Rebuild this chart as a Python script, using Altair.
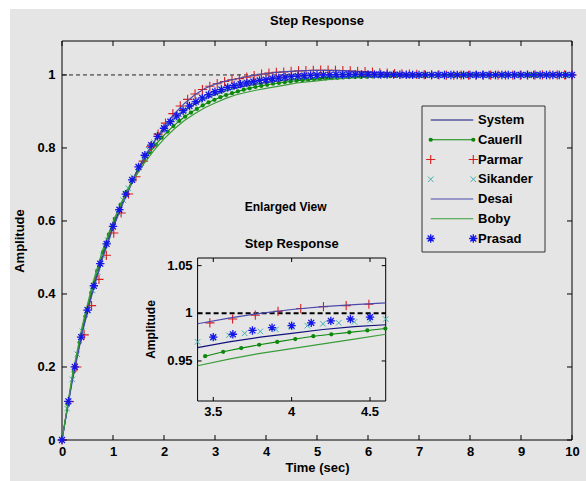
import altair as alt
import numpy as np
import pandas as pd

FONT = "Liberation Sans, Arial, sans-serif"
BG = "#e5e5e5"

# ---------------- data ----------------
# sampling steps of the step responses (s)
line_dt = 0.2          # System, Desai, Boby
cauer_dt = 10 / 87     # CauerII
parmar_dt = 10 / 69    # Parmar
sikander_dt = 0.1      # Sikander
prasad_dt = 0.125      # Prasad

system_y = [0.000, 0.168, 0.300, 0.410, 0.505, 0.585, 0.655, 0.718, 0.772, 0.815,
            0.850, 0.879, 0.902, 0.920, 0.934, 0.946, 0.956, 0.964, 0.970, 0.975,
            0.979, 0.983, 0.986, 0.988, 0.990, 0.992, 0.993, 0.994, 0.995, 0.996,
            0.997, 0.9975, 0.998, 0.9985, 0.9988, 0.999, 0.9992, 0.9994, 0.9995, 0.9996,
            0.9997, 0.9998, 0.9998, 0.9999, 0.9999, 1.000, 1.000, 1.000, 1.000, 1.000, 1.000]

desai_y = [0.000, 0.160, 0.295, 0.405, 0.500, 0.580, 0.650, 0.713, 0.768, 0.816,
           0.858, 0.893, 0.922, 0.945, 0.963, 0.975, 0.983, 0.989, 0.995, 1.000,
           1.004, 1.007, 1.009, 1.011, 1.012, 1.0125, 1.0125, 1.012, 1.011, 1.0095,
           1.008, 1.0065, 1.005, 1.0035, 1.0025, 1.0015, 1.001, 1.0005, 1.000, 0.9997,
           0.9995, 0.9994, 0.9994, 0.9995, 0.9996, 0.9997, 0.9998, 0.9999, 1.000, 1.000, 1.000]

boby_y = [0.000, 0.175, 0.315, 0.428, 0.522, 0.598, 0.660, 0.712, 0.756, 0.793,
          0.825, 0.852, 0.875, 0.894, 0.910, 0.923, 0.935, 0.945, 0.952, 0.958,
          0.963, 0.968, 0.973, 0.978, 0.981, 0.984, 0.987, 0.989, 0.991, 0.9925,
          0.994, 0.995, 0.996, 0.9967, 0.9973, 0.9978, 0.9982, 0.9985, 0.9988, 0.999,
          0.9992, 0.9993, 0.9994, 0.9995, 0.9996, 0.9997, 0.9997, 0.9998, 0.9998, 0.9999, 0.9999]

cauer_y = [0.000, 0.098, 0.187, 0.267, 0.339, 0.404, 0.4625, 0.515, 0.563, 0.606,
           0.645, 0.680, 0.711, 0.7395, 0.765, 0.788, 0.809, 0.828, 0.845, 0.860,
           0.874, 0.886, 0.897, 0.907, 0.9165, 0.925, 0.932, 0.939, 0.945, 0.950,
           0.955, 0.9596, 0.9635, 0.967, 0.970, 0.973, 0.976, 0.978, 0.980, 0.982,
           0.984, 0.9857, 0.9871, 0.9883, 0.9895, 0.9905, 0.9915, 0.9923, 0.9931, 0.9938,
           0.9944, 0.9949, 0.9954, 0.9959, 0.9963, 0.9967, 0.9970, 0.9973, 0.9976, 0.9978,
           0.9980, 0.9982, 0.9984, 0.9986, 0.9987, 0.9988, 0.9989, 0.9990, 0.9991, 0.9992,
           0.9993, 0.9994, 0.9994, 0.9995, 0.9995, 0.9996, 0.9996, 0.9997, 0.9997, 0.9997,
           0.9998, 0.9998, 0.9998, 0.9998, 0.9999, 0.9999, 0.9999, 0.9999]

parmar_y = [0.000, 0.105, 0.200, 0.288, 0.368, 0.440, 0.506, 0.567, 0.622, 0.674,
            0.721, 0.764, 0.803, 0.838, 0.868, 0.894, 0.915, 0.933, 0.948, 0.960,
            0.969, 0.976, 0.982, 0.987, 0.990, 0.994, 0.998, 1.002, 1.005, 1.007,
            1.008, 1.0095, 1.011, 1.012, 1.0125, 1.013, 1.013, 1.0125, 1.012, 1.011,
            1.010, 1.009, 1.0075, 1.006, 1.005, 1.004, 1.003, 1.002, 1.0015, 1.001,
            1.0005, 1.000, 0.9997, 0.9995, 0.9993, 0.9992, 0.9992, 0.9993, 0.9994, 0.9995,
            0.9996, 0.9997, 0.9998, 0.9999, 1.000, 1.000, 1.000, 1.000, 1.000, 1.000]

sikander_y = [0.000, 0.086, 0.166, 0.235, 0.298, 0.356, 0.410, 0.460, 0.506, 0.547,
              0.585, 0.622, 0.657, 0.690, 0.720, 0.747, 0.772, 0.795, 0.816, 0.835,
              0.852, 0.867, 0.880, 0.892, 0.903, 0.913, 0.922, 0.930, 0.937, 0.944,
              0.950, 0.955, 0.960, 0.965, 0.970, 0.974, 0.977, 0.979, 0.981, 0.983,
              0.9855, 0.987, 0.989, 0.990, 0.991, 0.9925, 0.994, 0.995, 0.996, 0.9965,
              0.997, 0.9975, 0.998, 0.9983, 0.9986, 0.9988, 0.999, 0.9992, 0.9993, 0.9994,
              0.9995, 0.9996, 0.9996, 0.9997, 0.9997, 0.9998, 0.9998, 0.9998, 0.9999, 0.9999,
              0.9999, 1.000, 1.000, 1.000, 1.000, 1.000, 1.000, 1.000, 1.000, 1.000,
              1.000, 1.000, 1.000, 1.000, 1.000, 1.000, 1.000, 1.000, 1.000, 1.000,
              1.000, 1.000, 1.000, 1.000, 1.000, 1.000, 1.000, 1.000, 1.000, 1.000,
              1.000]

prasad_y = [0.000, 0.106, 0.2005, 0.282, 0.356, 0.4225, 0.483, 0.537, 0.585, 0.631,
            0.6735, 0.7125, 0.748, 0.780, 0.8075, 0.832, 0.854, 0.872, 0.888, 0.902,
            0.915, 0.927, 0.937, 0.946, 0.954, 0.960, 0.966, 0.971, 0.975, 0.978,
            0.982, 0.985, 0.987, 0.990, 0.992, 0.994, 0.996, 0.997, 0.998, 0.999,
            0.9995, 1.000, 1.0005, 1.001, 1.001, 1.0013, 1.0015, 1.0015, 1.0015, 1.0014,
            1.0012, 1.001, 1.0008, 1.0006, 1.0005, 1.0003, 1.0002, 1.0001, 1.0001, 1.0001,
            1.000, 1.000, 1.000, 1.000, 1.000, 1.000, 1.000, 1.000, 1.000, 1.000,
            1.000, 1.000, 1.000, 1.000, 1.000, 1.000, 1.000, 1.000, 1.000, 1.000,
            1.000]

legend_names = ["System", "CauerII", "Parmar", "Sikander", "Desai", "Boby", "Prasad"]
x_ticks = [0, 1, 2, 3, 4, 5, 6, 7, 8, 9, 10]
y_ticks = [0, 0.2, 0.4, 0.6, 0.8, 1]
inset_x_ticks = [3.5, 4, 4.5]
inset_y_ticks = [0.95, 1, 1.05]
x_domain = [0, 10]
y_domain = [0, 1.093]
inset_x_domain = [3.4, 4.6]
inset_y_domain = [0.908, 1.058]
main_title = "Step Response"


def frame(values, dt):
    t = np.round(np.arange(len(values)) * dt, 4)
    return pd.DataFrame({"t": t, "y": values})


df_system = frame(system_y, line_dt)
df_desai = frame(desai_y, line_dt)
df_boby = frame(boby_y, line_dt)
df_cauer = frame(cauer_y, cauer_dt)
df_parmar = frame(parmar_y, parmar_dt)
df_sikander = frame(sikander_y, sikander_dt)
df_prasad = frame(prasad_y, prasad_dt)
one = pd.DataFrame({"a": [0]})

# ---------------- styles ----------------
C_SYS = "#12127e"
C_CAUER = "#0b880b"
C_PARMAR = "#d81e1e"
C_SIK = "#3fb0b0"
C_DESAI = "#4a4aae"
C_BOBY = "#3a9c3a"
C_PRASAD = "#1515e8"

PLUS = "M-1,0L1,0M0,-1L0,1"
XMARK = "M-1,-1L1,1M-1,1L1,-1"
STAR = "M-1,0L1,0M0,-1L0,1M-0.7,-0.7L0.7,0.7M-0.7,0.7L0.7,-0.7"

# ---------------- main axes ----------------
x_scale = alt.Scale(domain=x_domain, nice=False, zero=False)
y_scale = alt.Scale(domain=y_domain, nice=False, zero=False)
x_axis = alt.Axis(values=x_ticks, title="Time (sec)", ticks=False, domain=False, grid=False,
                  labelFont=FONT, labelFontSize=13, labelFontWeight="bold", labelColor="black",
                  labelPadding=5, labelFlush=False, labelOverlap=False,
                  titleFont=FONT, titleFontSize=13, titleFontWeight="bold", titleColor="black",
                  titlePadding=3, zindex=1)
y_axis = alt.Axis(values=y_ticks, format="~g", title="Amplitude", ticks=False, domain=False, grid=False,
                  labelFont=FONT, labelFontSize=13, labelFontWeight="bold", labelColor="black",
                  labelPadding=7, labelFlush=False, labelOverlap=False,
                  titleFont=FONT, titleFontSize=13, titleFontWeight="bold", titleColor="black",
                  titlePadding=10, zindex=1)

MX = alt.X("t:Q", scale=x_scale, axis=x_axis)
MY = alt.Y("y:Q", scale=y_scale, axis=y_axis)


def mxd(v):
    return alt.XDatum(v, type="quantitative", scale=x_scale, axis=x_axis)


def myd(v):
    return alt.YDatum(v, type="quantitative", scale=y_scale, axis=y_axis)


def series_layers(X, Y, filt=None):
    def base(df):
        c = alt.Chart(df)
        if filt:
            c = c.transform_filter(filt)
        return c
    enc = dict(x=X, y=Y)
    return [
        base(df_system).mark_line(color=C_SYS, strokeWidth=1.2).encode(**enc),
        base(df_cauer).mark_line(color=C_CAUER, strokeWidth=1.1).encode(**enc),
        base(df_cauer).mark_point(shape="circle", filled=True, color=C_CAUER, size=18, opacity=1).encode(**enc),
        base(df_parmar).mark_point(shape=PLUS, filled=False, stroke=C_PARMAR, strokeWidth=1.1, size=85, opacity=1).encode(**enc),
        base(df_sikander).mark_point(shape=XMARK, filled=False, stroke=C_SIK, strokeWidth=1, size=30, opacity=1).encode(**enc),
        base(df_desai).mark_line(color=C_DESAI, strokeWidth=1.2).encode(**enc),
        base(df_boby).mark_line(color=C_BOBY, strokeWidth=1.2).encode(**enc),
        base(df_prasad).mark_point(shape=STAR, filled=False, stroke=C_PRASAD, strokeWidth=1.3, size=70, opacity=1).encode(**enc),
    ]


xt = pd.DataFrame({"t": x_ticks})
yt = pd.DataFrame({"y": y_ticks})

main = alt.layer(
    # figure background (white strip at top/left like the original)
    alt.Chart(one).mark_rect(color=BG).encode(
        x=alt.value(-52), x2=alt.value(524), y=alt.value(-32), y2=alt.value(440)),
    # axes box
    alt.Chart(one).mark_rect(fill=None, stroke="black", strokeWidth=1).encode(
        x=mxd(x_domain[0]), x2=alt.X2Datum(x_domain[1]), y=myd(y_domain[0]), y2=alt.Y2Datum(y_domain[1])),
    # inward ticks
    alt.Chart(xt).mark_rule(color="black", y2Offset=-5).encode(x=MX, y=myd(0), y2=alt.Y2Datum(0)),
    alt.Chart(xt).mark_rule(color="black", y2Offset=5).encode(x=MX, y=myd(y_domain[1]), y2=alt.Y2Datum(y_domain[1])),
    alt.Chart(yt).mark_rule(color="black", x2Offset=5).encode(y=MY, x=mxd(0), x2=alt.X2Datum(0)),
    alt.Chart(yt).mark_rule(color="black", x2Offset=-5).encode(y=MY, x=mxd(10), x2=alt.X2Datum(10)),
    # steady-state reference
    alt.Chart(one).mark_rule(color="#222222", strokeWidth=1, strokeDash=[4, 3]).encode(
        x=mxd(0), x2=alt.X2Datum(10), y=myd(1)),
    *series_layers(MX, MY),
    # main title
    alt.Chart(one).mark_text(text=main_title, baseline="middle", dy=-20, font=FONT, fontSize=13,
                             fontWeight="bold", color="black").encode(
        x=mxd(5), y=myd(y_domain[1])),
)

# ---------------- inset (enlarged view) ----------------
xi_scale = alt.Scale(domain=inset_x_domain, range=[135.6, 323.7], nice=False, zero=False)
yi_scale = alt.Scale(domain=inset_y_domain, range=[360, 217], nice=False, zero=False)
IX = alt.X("t:Q", scale=xi_scale, axis=None)
IY = alt.Y("y:Q", scale=yi_scale, axis=None)


def ixd(v):
    return alt.XDatum(v, type="quantitative", scale=xi_scale, axis=None)


def iyd(v):
    return alt.YDatum(v, type="quantitative", scale=yi_scale, axis=None)


ixt = pd.DataFrame({"t": inset_x_ticks})
iyt = pd.DataFrame({"y": inset_y_ticks})
x0, x1 = inset_x_domain
y0, y1 = inset_y_domain
tick_font = dict(font=FONT, fontSize=13, fontWeight="bold", color="black")

inset = alt.layer(
    alt.Chart(one).mark_rect(fill=BG, stroke="black", strokeWidth=1).encode(
        x=ixd(x0), x2=alt.X2Datum(x1), y=iyd(y0), y2=alt.Y2Datum(y1)),
    alt.Chart(ixt).mark_rule(color="black", y2Offset=-4).encode(x=IX, y=iyd(y0), y2=alt.Y2Datum(y0)),
    alt.Chart(ixt).mark_rule(color="black", y2Offset=4).encode(x=IX, y=iyd(y1), y2=alt.Y2Datum(y1)),
    alt.Chart(iyt).mark_rule(color="black", x2Offset=4).encode(y=IY, x=ixd(x0), x2=alt.X2Datum(x0)),
    alt.Chart(iyt).mark_rule(color="black", x2Offset=-4).encode(y=IY, x=ixd(x1), x2=alt.X2Datum(x1)),
    alt.Chart(ixt).mark_text(baseline="top", dy=5, **tick_font).encode(
        x=IX, y=iyd(y0), text=alt.Text("t:Q", format="~g")),
    alt.Chart(iyt).mark_text(align="right", baseline="middle", dx=-5, **tick_font).encode(
        y=IY, x=ixd(x0), text=alt.Text("y:Q", format="~g")),
    alt.Chart(one).mark_rule(color="black", strokeWidth=2, strokeDash=[5, 3]).encode(
        x=ixd(x0), x2=alt.X2Datum(x1), y=iyd(1)),
    *series_layers(IX, IY, "datum.t >= 3.399 && datum.t <= 4.601"),
    alt.Chart(one).mark_text(text="Step Response", baseline="middle", dy=-14, **tick_font).encode(
        x=ixd(4.0), y=iyd(y1)),
    alt.Chart(one).mark_text(text="Enlarged View", baseline="middle", dx=-6, dy=-51,
                             font=FONT, fontSize=12, fontWeight="bold", color="black").encode(
        x=ixd(4.0), y=iyd(y1)),
    alt.Chart(one).mark_text(text="Amplitude", angle=270, align="center", baseline="middle",
                             font=FONT, fontSize=12, fontWeight="bold", color="black").encode(
        x=ixd(3.103), y=iyd(0.983)),
)

# ---------------- legend ----------------
leg = pd.DataFrame({"name": legend_names})
LY = alt.Y("name:N", scale=alt.Scale(type="point", domain=legend_names, range=[79, 197.5], padding=0), axis=None)
LX0, LX1 = 368.7, 411.3


def lrow(name):
    return alt.Chart(leg).transform_filter(alt.datum.name == name)


legend_layers = [
    alt.Chart(one).mark_rect(fill=BG, stroke="#333333", strokeWidth=1).encode(
        x=alt.value(360), x2=alt.value(483), y=alt.value(65), y2=alt.value(211)),
]
for name, color in [("System", C_SYS), ("CauerII", C_CAUER), ("Desai", C_DESAI), ("Boby", C_BOBY)]:
    legend_layers.append(lrow(name).mark_rule(color=color, strokeWidth=1.2).encode(
        x=alt.value(LX0), x2=alt.value(LX1), y=LY))
for xpos in (LX0, LX1):
    legend_layers += [
        lrow("CauerII").mark_point(shape="circle", filled=True, color=C_CAUER, size=18, opacity=1).encode(x=alt.value(xpos), y=LY),
        lrow("Parmar").mark_point(shape=PLUS, filled=False, stroke=C_PARMAR, strokeWidth=1.1, size=85, opacity=1).encode(x=alt.value(xpos), y=LY),
        lrow("Sikander").mark_point(shape=XMARK, filled=False, stroke=C_SIK, strokeWidth=1, size=30, opacity=1).encode(x=alt.value(xpos), y=LY),
        lrow("Prasad").mark_point(shape=STAR, filled=False, stroke=C_PRASAD, strokeWidth=1.3, size=70, opacity=1).encode(x=alt.value(xpos), y=LY),
    ]
legend_layers.append(alt.Chart(leg).mark_text(align="left", baseline="middle", font=FONT, fontSize=13,
                                              fontWeight="bold", color="black").encode(
    x=alt.value(416), y=LY, text="name:N"))
legend = alt.layer(*legend_layers)

chart = alt.layer(main, inset, legend).resolve_scale(
    x="independent", y="independent"
).properties(
    width=510, height=399,
    padding={"left": 62, "top": 41, "right": 14, "bottom": 41},
    autosize="none",
    background="white",
).configure_view(stroke=None)

chart.save("out.html", embed_options={"renderer": "svg", "actions": False})
